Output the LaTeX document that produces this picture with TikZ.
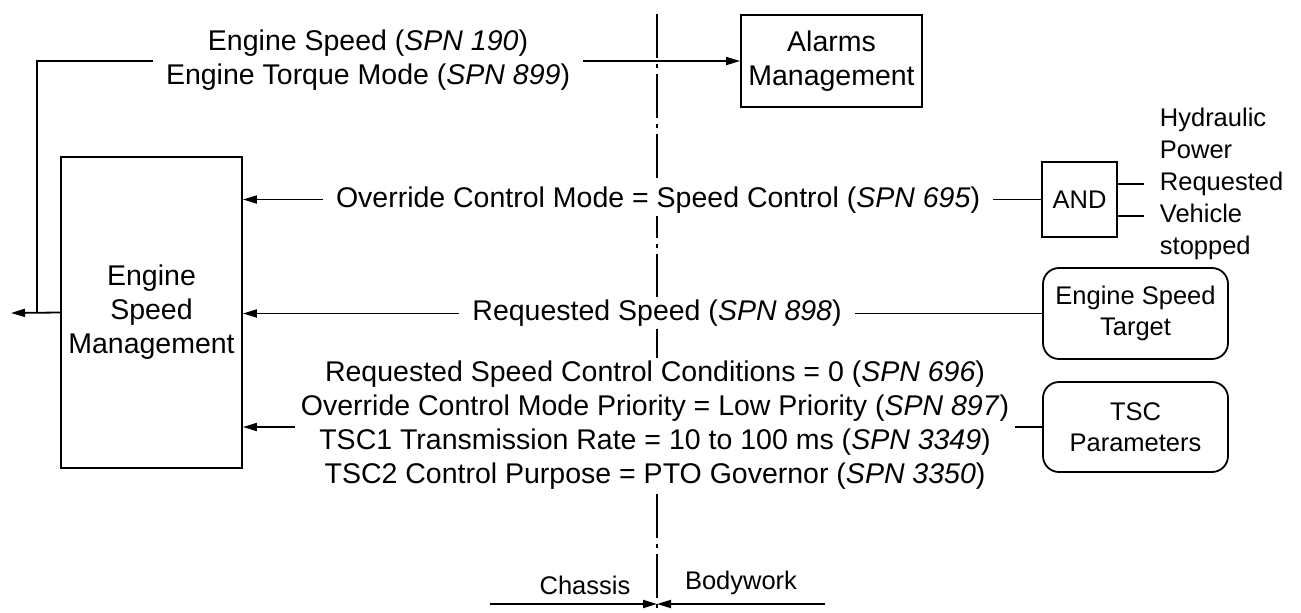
\documentclass[tikz,border=0pt]{standalone}
\usepackage{fontspec}
\setmainfont{Liberation Sans}
\usetikzlibrary{arrows.meta}

\begin{document}
\begin{tikzpicture}[x=1pt,y=-1pt,
  line width=1.8pt,
  bigtxt/.style={font=\fontsize{28.5}{34}\selectfont},
  smalltxt/.style={font=\fontsize{25.5}{31}\selectfont},
  block/.style={draw, inner sep=0pt, align=center},
  roundblock/.style={block, rounded corners=16pt, smalltxt},
  arr/.style={-{Triangle[length=14pt 0 0,width=8pt 0 0]}},
  signal/.style={fill=white, inner xsep=13pt, inner ysep=3pt, align=center, bigtxt},
  axisline/.style={line width=1.6pt, dash pattern=on 44pt off 6pt on 4pt off 6pt}]

\useasboundingbox (0,0) rectangle (1301,613);

% chassis / bodywork boundary
\coordinate (axtop) at (657,14);
\coordinate (axbot) at (657,613);
\draw[axisline] (axtop) -- (axbot);

% blocks
\node[block, bigtxt, minimum width=181pt, minimum height=311pt] (esm) at (151.5,312.5) {Engine\\Speed\\Management};
\node[block, bigtxt, minimum width=181pt, minimum height=92pt] (alarm) at (831.5,61) {Alarms\\Management};
\node[block, smalltxt, minimum width=75pt, minimum height=75pt] (and) at (1079.5,199.5) {AND};
\node[roundblock, minimum width=185pt, minimum height=91pt] (target) at (1135.5,313.5) {Engine Speed\\Target};
\node[roundblock, minimum width=185pt, minimum height=90pt] (tsc) at (1135.5,427) {TSC\\Parameters};

% engine outputs
\coordinate (out) at (11,313);
\coordinate (tap) at (37,313);
\draw[arr] (esm.west) -- (out);
\draw[arr] (tap) |- (alarm.west);

% requests into engine speed management
\draw[arr] (and.west) -- (esm.east |- and.west);
\draw[arr] (target.west) -- (esm.east |- target.west);
\draw[arr] (tsc.west) -- (esm.east |- tsc.west);

% AND inputs
\coordinate (in1) at (1144,184);
\coordinate (in2) at (1144,216);
\draw (and.east |- in1) -- (in1);
\draw (and.east |- in2) -- (in2);
\node[font=\fontsize{25.5}{32}\selectfont, align=left, inner sep=0pt, anchor=west] (conds) at (1159,184)
  {Hydraulic\\Power\\Requested\\Vehicle\\stopped};

% signal labels
\node[signal] (sig1) at (368,60) {Engine Speed (\textit{SPN 190})\\Engine Torque Mode (\textit{SPN 899})};
\node[signal] (sig2) at (658,200) {Override Control Mode = Speed Control (\textit{SPN 695})};
\node[signal] (sig3) at (657,313) {Requested Speed (\textit{SPN 898})};
\node[signal, inner xsep=6pt] (sig4) at (655,425)
  {Requested Speed Control Conditions = 0 (\textit{SPN 696})\\
   Override Control Mode Priority = Low Priority (\textit{SPN 897})\\
   TSC1 Transmission Rate = 10 to 100 ms (\textit{SPN 3349})\\
   TSC2 Control Purpose = PTO Governor (\textit{SPN 3350})};

% domain markers
\coordinate (chL) at (490,604);
\coordinate (bwR) at (825,604);
\draw[arr] (chL) -- (axbot |- chL);
\draw[arr] (bwR) -- (axbot |- bwR);
\node[smalltxt] (chassis) at (585,585) {Chassis};
\node[smalltxt] (body) at (741,583) {Bodywork};
\end{tikzpicture}
\end{document}
